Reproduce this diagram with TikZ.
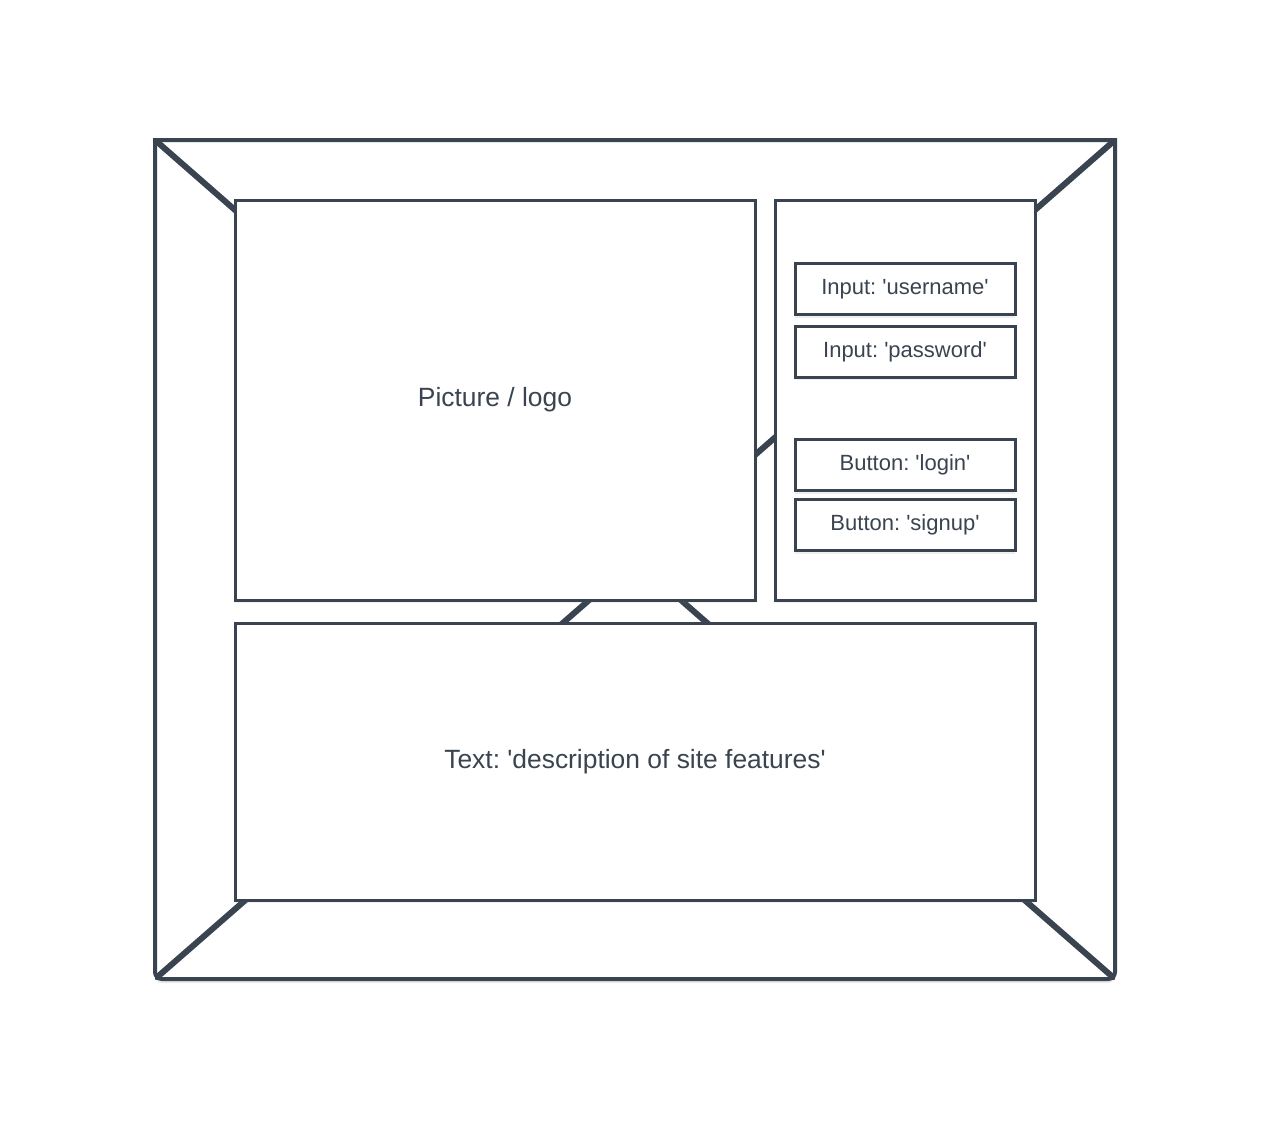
\documentclass[tikz,border=0pt]{standalone}
\usepackage{fontspec}
\setmainfont{Liberation Sans}
\usetikzlibrary{shadows}
\definecolor{slate}{RGB}{58,68,80}
\newcommand{\sq}{\textquotesingle}
\frenchspacing
\begin{document}
\begin{tikzpicture}[x=1pt,y=-1pt,
  softshadow/.style={drop shadow={opacity=0.12, shadow xshift=0pt, shadow yshift=-3pt}},
  panel/.style={draw=slate, line width=3pt, fill=white, inner sep=0pt,
    text=slate, softshadow},
  bigpanel/.style={panel, font=\fontsize{26.4}{30}\selectfont},
  field/.style={panel, minimum width=220, minimum height=51,
    font=\fontsize{22}{26}\selectfont},
  framestyle/.style={draw=slate, line width=4pt, fill=white,
    drop shadow={opacity=0.16, shadow xshift=0pt, shadow yshift=-4pt}},
  xline/.style={draw=slate, line width=6pt}]

% page
\fill[white] (0,0) rectangle (1270,1120);

% outer frame corners
\coordinate (ftl) at (155,140);
\coordinate (ftr) at (1115,140);
\coordinate (fbr) at (1115,979);
\coordinate (fbl) at (155,979);
\coordinate (fc) at (635,560);

% outer frame: square top corners, rounded bottom corners
\path[framestyle] (ftl) -- (ftr) -- (1115,960) [rounded corners=7pt] -- (fbr) -- (fbl) -- (155,960) [sharp corners] -- cycle;

% diagonals from the frame corners to its centre
\begin{scope}
  \clip (ftl) rectangle (fbr);
  \draw[xline] (ftl) -- (fc) -- (fbr);
  \draw[xline] (ftr) -- (fc) -- (fbl);
\end{scope}

% content panels
\node[bigpanel, minimum width=520, minimum height=400] (logo) at (495,400) {Picture / logo};
\node[panel, minimum width=260, minimum height=400] (side) at (905,400) {};
\node[bigpanel, minimum width=800, minimum height=277] (desc) at (635,761.5) {Text: \sq description of site features\sq};

% login fields
\node[field] (user) at (905,289) {Input: \sq username\sq};
\node[field] (pass) at (905,351.5) {Input: \sq password\sq};
\node[field] (login) at (905,465) {Button: \sq login\sq};
\node[field] (signup) at (905,525) {Button: \sq signup\sq};

\end{tikzpicture}
\end{document}
